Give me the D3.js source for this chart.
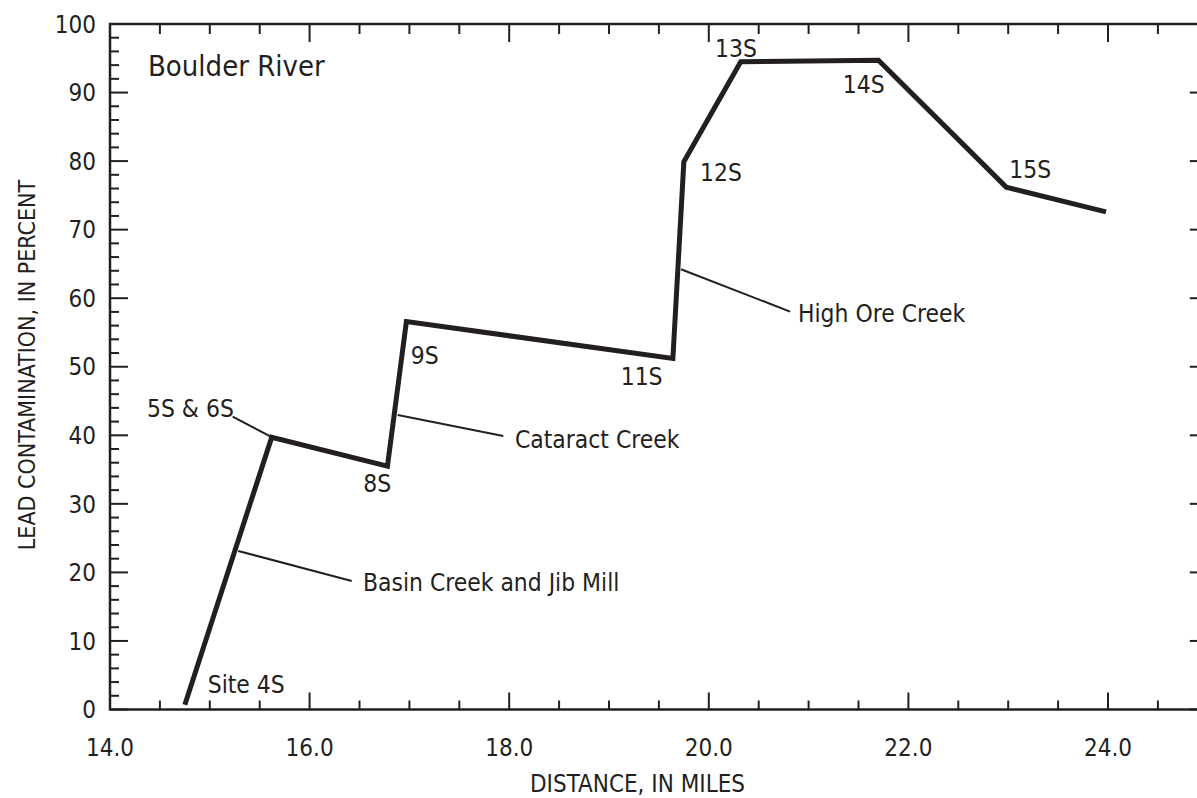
<!DOCTYPE html>
<html>
<head>
<meta charset="utf-8">
<script src="https://cdn.jsdelivr.net/npm/d3@7"></script>
<style>
  html, body { margin: 0; padding: 0; background: #fff; }
  svg { display: block; }
  .num { font-family: "Liberation Sans Narrow", "DejaVu Sans Condensed", sans-serif; }
  .txt { font-family: "DejaVu Sans Condensed", "Liberation Sans Narrow", sans-serif; }
</style>
</head>
<body>
<svg id="chart" width="1197" height="798"></svg>
<script>
// ---- data ----
const siteMiles   = [14.75, 15.62, 16.78, 16.97, 19.64, 19.75, 20.32, 21.70, 22.98, 23.98];
const sitePercent = [0.7, 39.7, 35.5, 56.6, 51.2, 79.9, 94.5, 94.7, 76.2, 72.6];

const siteLabels   = ["Site 4S", "5S & 6S", "8S", "9S", "11S", "12S", "13S", "14S", "15S"];
const siteLabelX   = [14.979, 14.371, 16.538, 17.013, 19.117, 19.912, 20.062, 21.342, 23.011];
const siteLabelY   = [2.45, 42.73, 31.78, 50.42, 47.35, 77.12, 95.17, 89.92, 77.6];

const creekNames   = ["Basin Creek and Jib Mill", "Cataract Creek", "High Ore Creek"];
const creekFromX   = [15.285, 16.883, 19.721];
const creekFromY   = [23.13, 42.97, 64.23];
const creekToX     = [16.422, 17.941, 20.814];
const creekToY     = [18.75, 39.91, 58.05];
const creekLabelX  = [16.535, 18.058, 20.894];
const creekLabelY  = [17.22, 38.11, 56.55];

// leader for "5S & 6S"
const leader56 = [[15.62, 39.72], [15.229, 42.73]];

const xMajorTicks = [14, 16, 18, 20, 22, 24];
const yMajorTicks = [0, 10, 20, 30, 40, 50, 60, 70, 80, 90, 100];
const riverName = "Boulder River";
const riverLabelPos = [14.38, 92.44];
const xTitle = "DISTANCE, IN MILES";
const yTitle = "LEAD CONTAMINATION, IN PERCENT";

// ---- layout ----
const ink = "#231f20";
const svg = d3.select("#chart");
const x = d3.scaleLinear().domain([14, 25]).range([110, 1207.8]);
const y = d3.scaleLinear().domain([0, 100]).range([709.5, 24]);

const xMinor = d3.range(14, 25.01, 0.5);
const yMinor = d3.range(0, 100.01, 2);

const g = svg.append("g");

// ticks (inward)
function tickLines(sel, data, fn) {
  sel.selectAll(null).data(data).enter().append("line")
    .each(function(d){ const a = fn(d); d3.select(this).attr("x1",a[0]).attr("y1",a[1]).attr("x2",a[2]).attr("y2",a[3]); })
    .attr("stroke", ink).attr("stroke-width", 2);
}
const isMajorX = d => Math.abs(d/2 - Math.round(d/2)) < 1e-6;
const isMajorY = d => Math.abs(d/10 - Math.round(d/10)) < 1e-6;

tickLines(g, xMinor, d => { const L = isMajorX(d) ? 17 : 9; return [x(d), y(0), x(d), y(0) - L]; });
tickLines(g, xMinor, d => { const L = isMajorX(d) ? 18 : 10; return [x(d), y(100), x(d), y(100) + L]; });
tickLines(g, yMinor, d => { const L = isMajorY(d) ? 18 : 9; return [x(14), y(d), x(14) + L, y(d)]; });
tickLines(g, yMinor, d => { const L = isMajorY(d) ? 18 : 9; return [x(25), y(d), x(25) - L, y(d)]; });

// frame
g.append("rect")
  .attr("x", x(14)).attr("y", y(100))
  .attr("width", x(25) - x(14)).attr("height", y(0) - y(100))
  .attr("fill", "none").attr("stroke", ink).attr("stroke-width", 2.5);

// tick labels
g.selectAll(".xl").data(xMajorTicks).enter().append("text")
  .attr("class", "num").attr("x", d => x(d)).attr("y", 756)
  .attr("text-anchor", "middle").attr("font-size", 24).attr("fill", ink)
  .text(d => d3.format(".1f")(d));
g.selectAll(".yl").data(yMajorTicks).enter().append("text")
  .attr("class", "num").attr("x", 96).attr("y", d => y(d) + 8.7)
  .attr("text-anchor", "end").attr("font-size", 24).attr("fill", ink)
  .text(d => d);

// axis titles
g.append("text").attr("class", "txt")
  .attr("x", 637.5).attr("y", 792).attr("text-anchor", "middle")
  .attr("font-size", 24).attr("fill", ink).text(xTitle);
g.append("text").attr("class", "txt")
  .attr("transform", "translate(35,365) rotate(-90)").attr("text-anchor", "middle")
  .attr("font-size", 23).attr("fill", ink).text(yTitle);

// creek leader lines
creekNames.forEach((n, i) => {
  g.append("line")
    .attr("x1", x(creekFromX[i])).attr("y1", y(creekFromY[i]))
    .attr("x2", x(creekToX[i])).attr("y2", y(creekToY[i]))
    .attr("stroke", ink).attr("stroke-width", 2);
  g.append("text").attr("class", "txt")
    .attr("x", x(creekLabelX[i])).attr("y", y(creekLabelY[i]))
    .attr("font-size", 24.4).attr("fill", ink).text(n);
});
g.append("line")
  .attr("x1", x(leader56[0][0])).attr("y1", y(leader56[0][1]))
  .attr("x2", x(leader56[1][0])).attr("y2", y(leader56[1][1]))
  .attr("stroke", ink).attr("stroke-width", 2);

// main line
const line = d3.line().x(d => x(d[0])).y(d => y(d[1]));
g.append("path")
  .datum(siteMiles.map((m, i) => [m, sitePercent[i]]))
  .attr("d", line).attr("fill", "none").attr("stroke", ink)
  .attr("stroke-width", 5).attr("stroke-linejoin", "miter");

// site labels
siteLabels.forEach((s, i) => {
  g.append("text").attr("class", "txt")
    .attr("x", x(siteLabelX[i])).attr("y", y(siteLabelY[i]))
    .attr("font-size", 24.4).attr("fill", ink).text(s);
});

// river label
g.append("text").attr("class", "txt")
  .attr("x", x(riverLabelPos[0])).attr("y", y(riverLabelPos[1]))
  .attr("font-size", 29).attr("fill", ink).text(riverName);
</script>
</body>
</html>
